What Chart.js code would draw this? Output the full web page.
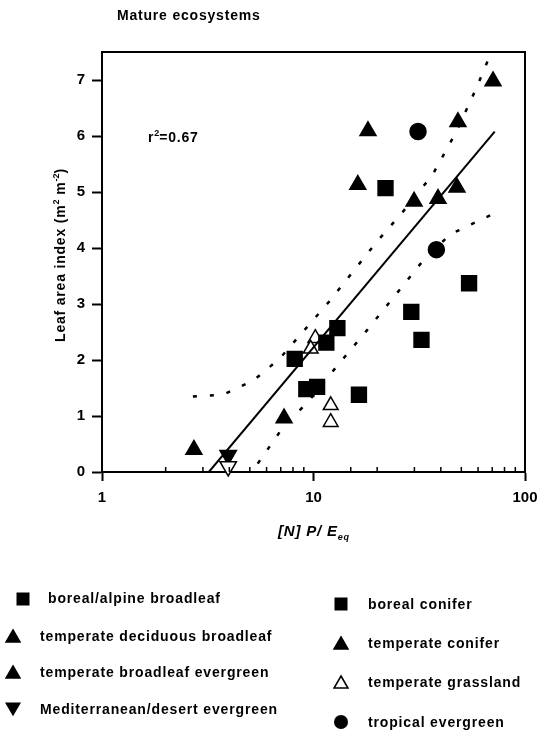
<!DOCTYPE html>
<html>
<head>
<meta charset="utf-8">
<script src="https://cdn.jsdelivr.net/npm/chart.js@4"></script>
<style>
  body { margin: 0; background: #fff; }
  #wrap { position: relative; width: 551px; height: 736px; font-family: 'Liberation Sans', Arial, sans-serif; font-weight: bold; color: #000; }
  #chart { position: absolute; left: 0; top: 0; }
  .lbl { position: absolute; white-space: nowrap; font-size: 14px; line-height: 18px; letter-spacing: 0.8px; }
  .lbl sup { font-size: 9px; vertical-align: 6px; line-height: 0; letter-spacing: 0; }
  .lbl sub { font-size: 9px; vertical-align: -4px; line-height: 0; }
  .leg { position: absolute; font-size: 14px; line-height: 18px; white-space: nowrap; letter-spacing: 0.85px; }
  .mk { position: absolute; }
</style>
</head>
<body>
<div id="wrap">
  <canvas id="chart" width="551" height="736"></canvas>
  <div class="lbl" style="left:117px; top:6px;">Mature ecosystems</div>
  <div class="lbl" style="left:148px; top:128px;">r<sup>2</sup>=0.67</div>
  <div class="lbl" style="left:278px; top:522px; font-style:italic; font-size:15px;">[N] P/ E<sub>eq</sub></div>
  <div class="lbl" style="left:-50px; top:246px; width:220px; text-align:center; transform:rotate(-90deg);">Leaf area index (m<sup>2</sup> m<sup>-2</sup>)</div>
  <div id="legend"></div>
</div>
<script>
// values: x = [N] P / Eeq, y = leaf area index
const borealAlpineX = [8.15, 9.25, 10.4, 16.4];
const borealAlpineY = [2.02, 1.48, 1.52, 1.38];
const tempDecidX = [2.72, 7.26, 16.2, 18.1];
const tempDecidY = [0.40, 0.96, 5.13, 6.09];
const tempBroadEvX = [29.9, 38.8];
const tempBroadEvY = [4.83, 4.88];
const mediterraneanX = [3.95, 3.95];
const mediterraneanY = [0.30, 0.10];
const borealConiferX = [21.9, 54.4, 29.0, 32.4, 12.97, 11.5];
const borealConiferY = [5.07, 3.37, 2.86, 2.36, 2.57, 2.31];
const tempConiferX = [47.7, 48.2, 70.6];
const tempConiferY = [5.08, 6.25, 6.98];
const grasslandX = [10.2, 9.7, 12.06, 12.06];
const grasslandY = [2.39, 2.20, 1.19, 0.89];
const tropicalX = [31.2, 38.1];
const tropicalY = [6.08, 3.97];

// regression line and confidence band
const fitX = [3.2, 71.9];
const fitY = [0, 6.08];
const upperX = [2.69, 3.73, 5.18, 6.9, 11.9, 19.8, 26.5, 36.6, 47.4, 58.8, 68.5];
const upperY = [1.35, 1.38, 1.63, 2.02, 3.05, 4.10, 4.65, 5.31, 6.08, 6.85, 7.45];
const lowerX = [5.45, 7.18, 9.4, 12.4, 17.8, 26.0, 32.9, 44.1, 71.9];
const lowerY = [0.15, 0.80, 1.25, 1.81, 2.52, 3.29, 3.77, 4.24, 4.62];

const xTickLabels = [1, 10, 100];

function pts(xs, ys) {
    return xs.map((x, i) => ({ x: x, y: ys[i] }));
}

function markerSet(label, xs, ys, style, fill, r) {
    return {
        label: label,
        data: pts(xs, ys),
        pointStyle: style.shape,
        rotation: style.rot || 0,
        pointRadius: r,
        pointHoverRadius: r,
        backgroundColor: fill,
        borderColor: '#000',
        borderWidth: 1.5,
        showLine: false,
        clip: false
    };
}

function lineSet(xs, ys, dash) {
    return {
        label: '',
        data: pts(xs, ys),
        showLine: true,
        pointRadius: 0,
        borderColor: '#000',
        borderWidth: dash ? 2.5 : 2,
        borderDash: dash ? [4, 13] : [],
        tension: 0,
        fill: false
    };
}

const tri = { shape: 'triangle' };
const down = { shape: 'triangle', rot: 180 };
const sq = { shape: 'rect' };
const circ = { shape: 'circle' };

const frame = {
    id: 'frame',
    afterDraw(chart) {
        const { ctx, chartArea: a, scales } = chart;
        ctx.save();
        ctx.strokeStyle = '#000';
        ctx.lineWidth = 2;
        ctx.beginPath();
        ctx.moveTo(a.left, a.top);
        ctx.lineTo(a.right, a.top);
        ctx.lineTo(a.right, a.bottom);
        ctx.stroke();
        // small inward minor ticks on the log axis
        ctx.lineWidth = 1.5;
        ctx.beginPath();
        scales.x.ticks.forEach(t => {
            if (xTickLabels.includes(t.value)) return;
            const px = scales.x.getPixelForValue(t.value);
            ctx.moveTo(px, a.bottom);
            ctx.lineTo(px, a.bottom - 5);
        });
        ctx.stroke();
        ctx.restore();
    }
};

const tickFont = { family: "'Liberation Sans', Arial, sans-serif", size: 15, weight: 'bold' };

new Chart(document.getElementById('chart'), {
    type: 'scatter',
    data: {
        datasets: [
            lineSet(upperX, upperY, true),
            lineSet(lowerX, lowerY, true),
            lineSet(fitX, fitY, false),
            markerSet('boreal/alpine broadleaf', borealAlpineX, borealAlpineY, sq, '#000', 10.5),
            markerSet('temperate deciduous broadleaf', tempDecidX, tempDecidY, tri, '#000', 9.2),
            markerSet('temperate broadleaf evergreen', tempBroadEvX, tempBroadEvY, tri, '#000', 9.2),
            markerSet('Mediterranean/desert evergreen', mediterraneanX, mediterraneanY, down, ['#000', '#fff'], 9.5),
            markerSet('boreal conifer', borealConiferX, borealConiferY, sq, '#000', 10.5),
            markerSet('temperate conifer', tempConiferX, tempConiferY, tri, '#000', 9.2),
            markerSet('temperate grassland', grasslandX, grasslandY, tri, '#fff', 8.5),
            markerSet('tropical evergreen', tropicalX, tropicalY, circ, '#000', 8)
        ]
    },
    options: {
        responsive: false,
        animation: false,
        layout: { padding: { top: 52, right: 26, left: 0, bottom: 0 } },
        plugins: {
            legend: { display: false },
            title: { display: false },
            tooltip: { enabled: false }
        },
        scales: {
            x: {
                type: 'logarithmic',
                min: 1,
                max: 100,
                afterFit(scale) { scale.height = 264; },
                border: { display: true, color: '#000', width: 2 },
                grid: {
                    drawOnChartArea: false,
                    drawTicks: true,
                    tickLength: 9,
                    tickWidth: 2,
                    tickColor: c => (c.tick && xTickLabels.includes(c.tick.value)) ? '#000' : 'rgba(0,0,0,0)'
                },
                ticks: {
                    autoSkip: false,
                    maxRotation: 0,
                    padding: 8,
                    color: '#000',
                    font: tickFont,
                    callback: v => xTickLabels.includes(v) ? String(v) : ''
                }
            },
            y: {
                min: 0,
                max: 7.5,
                afterFit(scale) { scale.width = 102; },
                afterBuildTicks(scale) { scale.ticks = scale.ticks.filter(t => Number.isInteger(t.value)); },
                border: { display: true, color: '#000', width: 2 },
                grid: {
                    drawOnChartArea: false,
                    drawTicks: true,
                    tickLength: 10,
                    tickWidth: 2,
                    tickColor: '#000'
                },
                ticks: {
                    stepSize: 1,
                    padding: 7,
                    color: '#000',
                    font: tickFont
                }
            }
        }
    },
    plugins: [frame]
});

// legend, two columns as in the figure
const legendItems = [
    ['boreal/alpine broadleaf', 'square', '#000', 23, 599, 48, 598],
    ['temperate deciduous broadleaf', 'up', '#000', 13, 636, 40, 636],
    ['temperate broadleaf evergreen', 'up', '#000', 13, 672, 40, 672],
    ['Mediterranean/desert evergreen', 'down', '#000', 13, 709, 40, 709],
    ['boreal conifer', 'square', '#000', 341, 604, 368, 604],
    ['temperate conifer', 'up', '#000', 341, 643, 368, 643],
    ['temperate grassland', 'up', '#fff', 341, 682, 368, 682],
    ['tropical evergreen', 'circle', '#000', 341, 722, 368, 722]
];

function markerSvg(shape, fill) {
    let s = '';
    if (shape === 'square') s = '<rect x="1.5" y="1.5" width="13" height="13" fill="#000"/>';
    if (shape === 'up') s = '<polygon points="8,2 15,14 1,14" fill="' + fill + '" stroke="#000" stroke-width="1.6"/>';
    if (shape === 'down') s = '<polygon points="1,2 15,2 8,14" fill="#000" stroke="#000" stroke-width="1.2"/>';
    if (shape === 'circle') s = '<circle cx="8" cy="8" r="7" fill="#000"/>';
    return '<svg width="16" height="16" viewBox="0 0 16 16">' + s + '</svg>';
}

const legendEl = document.getElementById('legend');
legendItems.forEach(([text, shape, fill, mx, my, tx, ty]) => {
    const m = document.createElement('div');
    m.className = 'mk';
    m.style.left = (mx - 8) + 'px';
    m.style.top = (my - 8) + 'px';
    m.innerHTML = markerSvg(shape, fill);
    legendEl.appendChild(m);
    const t = document.createElement('div');
    t.className = 'leg';
    t.style.left = tx + 'px';
    t.style.top = (ty - 9) + 'px';
    t.textContent = text;
    legendEl.appendChild(t);
});
</script>
</body>
</html>
